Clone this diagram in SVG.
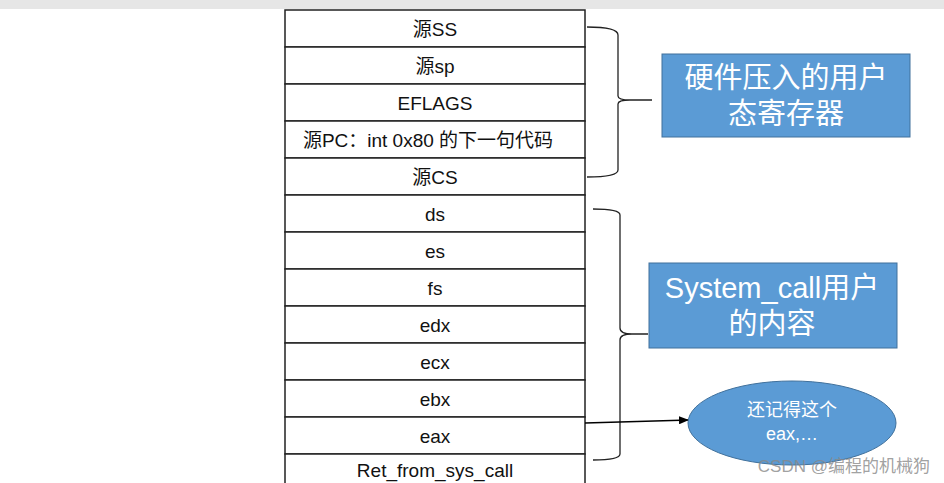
<svg xmlns="http://www.w3.org/2000/svg" width="944" height="483" viewBox="0 0 944 483">
<style>
.c{fill:#fff;stroke:#222;stroke-width:1.5}
.t{font-family:"Liberation Sans","Noto Sans CJK SC",sans-serif;font-size:19px;fill:#111;text-anchor:middle}
.w{font-family:"Liberation Sans","Noto Sans CJK SC",sans-serif;fill:#fff;text-anchor:middle}
.b{fill:none;stroke:#222;stroke-width:1.3}
.box{fill:#5b9bd5;stroke:#41719c;stroke-width:1}
</style>
<defs><marker id="ar" markerWidth="10" markerHeight="8" refX="10" refY="4" orient="auto" markerUnits="userSpaceOnUse"><path d="M0,0L10,4L0,8z" fill="#000"/></marker></defs>
<rect width="944" height="483" fill="#fff"/>
<rect width="944" height="9" fill="#e6e6e6"/>
<g id="stack">
<rect class="c" x="285" y="10" width="300" height="37"/><text class="t" x="435" y="36">源SS</text>
<rect class="c" x="285" y="47" width="300" height="37"/><text class="t" x="435" y="73">源sp</text>
<rect class="c" x="285" y="84" width="300" height="37"/><text class="t" x="435" y="110">EFLAGS</text>
<rect class="c" x="285" y="121" width="300" height="37"/><text class="t" x="428" y="147">源PC：int 0x80 的下一句代码</text>
<rect class="c" x="285" y="158" width="300" height="37"/><text class="t" x="435" y="184">源CS</text>
<rect class="c" x="285" y="195" width="300" height="37"/><text class="t" x="435" y="221">ds</text>
<rect class="c" x="285" y="232" width="300" height="37"/><text class="t" x="435" y="258">es</text>
<rect class="c" x="285" y="269" width="300" height="37"/><text class="t" x="435" y="295">fs</text>
<rect class="c" x="285" y="306" width="300" height="37"/><text class="t" x="435" y="332">edx</text>
<rect class="c" x="285" y="343" width="300" height="37"/><text class="t" x="435" y="369">ecx</text>
<rect class="c" x="285" y="380" width="300" height="37"/><text class="t" x="435" y="406">ebx</text>
<rect class="c" x="285" y="417" width="300" height="37"/><text class="t" x="435" y="443">eax</text>
<rect class="c" x="285" y="454" width="300" height="37"/><text class="t" x="435" y="477">Ret_from_sys_call</text>
</g>
<g id="connectors">
<path class="b" d="M587,27 Q618,27 618,35 L618,96 Q618,100 630,100 L652,100 M630,100 Q618,100 618,104 L618,170 Q618,177 587,177"/>
<path class="b" d="M593,209 Q620,209 620,215 L620,328 Q620,334 632,334 L648,334 M632,334 Q620,334 620,340 L620,454 Q620,460 593,460"/>
<line x1="585" y1="423" x2="689" y2="420" stroke="#000" stroke-width="1.3" marker-end="url(#ar)"/>
</g>
<g id="hw"><rect class="box" x="662" y="54" width="248" height="83"/><text class="w" x="786" y="88" font-size="29">硬件压入的用户</text><text class="w" x="786" y="124" font-size="29">态寄存器</text></g>
<g id="sys"><rect class="box" x="649" y="263" width="248" height="85"/><text class="w" x="772" y="298" font-size="29">System_call用户</text><text class="w" x="772" y="334" font-size="29">的内容</text></g>
<g id="eax"><ellipse cx="792" cy="423" rx="104" ry="42" fill="#5b9bd5" stroke="#41719c"/><text class="w" x="792" y="416" font-size="18">还记得这个</text><text class="w" x="792" y="440" font-size="18">eax,…</text></g>
<text x="930" y="472" font-family="'Liberation Sans','Noto Sans CJK SC',sans-serif" font-size="17" fill="#888" fill-opacity="0.8" text-anchor="end">CSDN @编程的机械狗</text>
</svg>
